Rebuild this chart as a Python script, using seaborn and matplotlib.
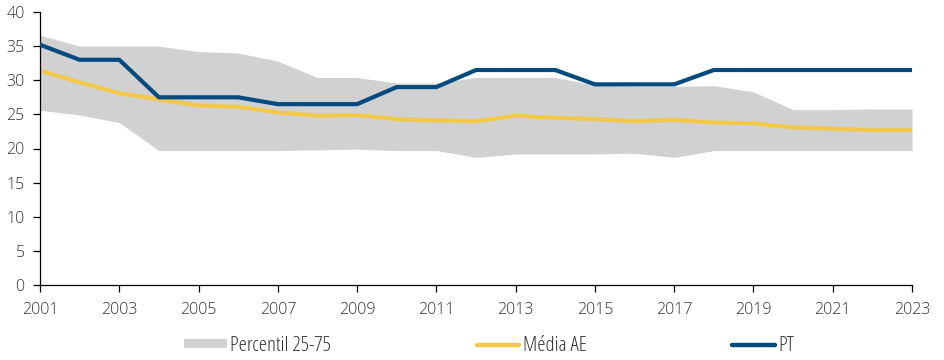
import matplotlib
matplotlib.use("Agg")
import matplotlib.pyplot as plt
import seaborn as sns
import pandas as pd
from matplotlib.patches import Patch
from matplotlib.lines import Line2D
from matplotlib import font_manager
from matplotlib.font_manager import FontProperties

years = list(range(2001, 2024))
p25 = [25.6, 24.9, 23.8, 19.7, 19.7, 19.7, 19.7, 19.8, 19.9, 19.7, 19.7, 18.7,
       19.2, 19.2, 19.2, 19.3, 18.7, 19.7, 19.7, 19.7, 19.7, 19.7, 19.7]
p75 = [36.6, 35.0, 35.0, 35.0, 34.2, 34.0, 32.8, 30.4, 30.4, 29.6, 29.6, 30.4,
       30.4, 30.4, 29.3, 29.1, 29.1, 29.2, 28.3, 25.7, 25.7, 25.8, 25.8]
media_ae = [31.4, 29.7, 28.1, 27.2, 26.3, 26.1, 25.3, 24.8, 24.9, 24.3, 24.1, 24.0,
            24.8, 24.5, 24.3, 24.0, 24.2, 23.8, 23.7, 23.1, 22.9, 22.7, 22.7]
pt = [35.2, 33.0, 33.0, 27.5, 27.5, 27.5, 26.5, 26.5, 26.5, 29.0, 29.0, 31.5,
      31.5, 31.5, 29.4, 29.4, 29.4, 31.5, 31.5, 31.5, 31.5, 31.5, 31.5]
labels = ["Percentil 25-75", "Média AE", "PT"]

GRAY = "#d1d1d1"
YELLOW = "#f2c84b"
NAVY = "#034a7e"
TXT = "#333333"

sns.set_style("ticks")
plt.rcParams["font.family"] = ["Open Sans", "DejaVu Sans"]


def _w(f):
    w = f.weight
    if isinstance(w, str):
        w = font_manager.weight_dict.get(w, 400)
    return w


cands = []
for f in font_manager.fontManager.ttflist:
    fn = f.fname.lower()
    is_narrow = ("narrow" in fn or "condensed" in fn or "cond" in fn
                 or "narrow" in f.name.lower() or "condensed" in f.name.lower())
    if not is_narrow or f.style != "normal" or _w(f) > 400:
        continue
    score = 0
    if "open" in fn:
        score -= 10
    if "liberation" in fn:
        score -= 5
    if "light" in fn:
        score -= 2
    cands.append((score, f.fname))
cands.sort()

df = pd.DataFrame({"year": years, "p25": p25, "p75": p75, "media": media_ae, "pt": pt})

fig = plt.figure(figsize=(9.44, 3.6), dpi=100)
ax = fig.add_axes([40 / 944, 1 - 285 / 360, (912 - 40) / 944, (285 - 12) / 360])

ax.fill_between(df["year"], df["p25"], df["p75"], color=GRAY, linewidth=0, zorder=1)
sns.lineplot(data=df, x="year", y="media", ax=ax, color=YELLOW, linewidth=3.0, zorder=2)
sns.lineplot(data=df, x="year", y="pt", ax=ax, color=NAVY, linewidth=3.0, zorder=3)

ax.set_xlim(2001, 2023)
ax.set_ylim(0, 40)
ax.set_xticks(years[::2])
ax.set_yticks(range(0, 41, 5))
ax.set_xlabel("")
ax.set_ylabel("")
for s in ["top", "right"]:
    ax.spines[s].set_visible(False)
for s in ["left", "bottom"]:
    ax.spines[s].set_color("black")
    ax.spines[s].set_linewidth(0.9)
ax.tick_params(axis="both", colors="black", labelcolor=TXT, labelsize=11.5,
               length=5, width=0.9, direction="out")
ax.tick_params(axis="x", pad=7)
ax.tick_params(axis="y", pad=6)
for lab in ax.get_xticklabels() + ax.get_yticklabels():
    lab.set_fontweight("light")

handles = [
    Patch(facecolor=GRAY, edgecolor="none"),
    Line2D([0], [0], color=YELLOW, linewidth=3.2, solid_capstyle="round"),
    Line2D([0], [0], color=NAVY, linewidth=3.2, solid_capstyle="round"),
]
if cands:
    prop = FontProperties(fname=cands[0][1], size=15)
    hl, spacing = 2.05, 7.0
else:
    prop = FontProperties(family=["Open Sans", "DejaVu Sans"], size=10, weight="light")
    hl, spacing = 3.3, 11.0
leg = fig.legend(handles, labels, loc="center", bbox_to_anchor=(0.518, 1 - 346 / 360),
                 ncol=3, frameon=False, handlelength=hl, handleheight=0.25,
                 handletextpad=0.15, columnspacing=spacing, prop=prop)
for t in leg.get_texts():
    t.set_color(TXT)

fig.savefig("out.png", dpi=100)
